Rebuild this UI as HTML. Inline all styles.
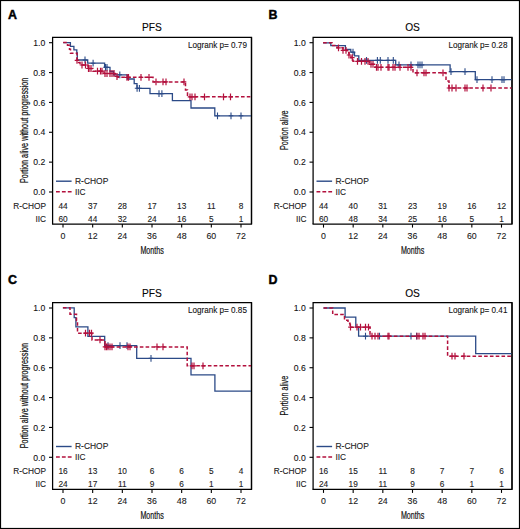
<!DOCTYPE html>
<html><head><meta charset="utf-8"><style>
html,body{margin:0;padding:0;background:#fff;}
svg{display:block;}
text{font-family:"Liberation Sans", sans-serif;}
</style></head><body>
<svg width="520" height="529" viewBox="0 0 520 529" font-family='"Liberation Sans", sans-serif' stroke="#111" stroke-width="0.1">
<rect x="0" y="0" width="520" height="529" fill="#fff" stroke="none"/>
<rect x="0.5" y="0.5" width="519" height="528" fill="none" stroke="#000" stroke-width="1.2"/>
<g transform="translate(0 0)">
<text x="8.1" y="18.7" font-size="12.4" font-weight="bold" stroke="#000" stroke-width="0.45">A</text>
<text x="152" y="31.3" font-size="10.2" text-anchor="middle">PFS</text>
<path d="M251.5 224.1V37.3H52.6V224.1" fill="none" stroke="#000" stroke-width="1.25"/>
<path d="M52 224.1H251.5V37.3" fill="none" stroke="#000" stroke-width="1.25"/>
<path d="M49 192H52.6" stroke="#000" stroke-width="1.1"/>
<text transform="translate(45.2 195.2) scale(0.95 1)" font-size="9.1" text-anchor="end" fill="#111">0.0</text>
<path d="M49 162.14H52.6" stroke="#000" stroke-width="1.1"/>
<text transform="translate(45.2 165.34) scale(0.95 1)" font-size="9.1" text-anchor="end" fill="#111">0.2</text>
<path d="M49 132.28H52.6" stroke="#000" stroke-width="1.1"/>
<text transform="translate(45.2 135.48) scale(0.95 1)" font-size="9.1" text-anchor="end" fill="#111">0.4</text>
<path d="M49 102.42H52.6" stroke="#000" stroke-width="1.1"/>
<text transform="translate(45.2 105.62) scale(0.95 1)" font-size="9.1" text-anchor="end" fill="#111">0.6</text>
<path d="M49 72.56H52.6" stroke="#000" stroke-width="1.1"/>
<text transform="translate(45.2 75.76) scale(0.95 1)" font-size="9.1" text-anchor="end" fill="#111">0.8</text>
<path d="M49 42.7H52.6" stroke="#000" stroke-width="1.1"/>
<text transform="translate(45.2 45.9) scale(0.95 1)" font-size="9.1" text-anchor="end" fill="#111">1.0</text>
<path d="M63 224.1V227.6" stroke="#000" stroke-width="1.1"/>
<text x="63" y="238.7" font-size="8.8" text-anchor="middle" fill="#222">0</text>
<path d="M92.67 224.1V227.6" stroke="#000" stroke-width="1.1"/>
<text x="92.67" y="238.7" font-size="8.8" text-anchor="middle" fill="#222">12</text>
<path d="M122.33 224.1V227.6" stroke="#000" stroke-width="1.1"/>
<text x="122.33" y="238.7" font-size="8.8" text-anchor="middle" fill="#222">24</text>
<path d="M152 224.1V227.6" stroke="#000" stroke-width="1.1"/>
<text x="152" y="238.7" font-size="8.8" text-anchor="middle" fill="#222">36</text>
<path d="M181.67 224.1V227.6" stroke="#000" stroke-width="1.1"/>
<text x="181.67" y="238.7" font-size="8.8" text-anchor="middle" fill="#222">48</text>
<path d="M211.33 224.1V227.6" stroke="#000" stroke-width="1.1"/>
<text x="211.33" y="238.7" font-size="8.8" text-anchor="middle" fill="#222">60</text>
<path d="M241 224.1V227.6" stroke="#000" stroke-width="1.1"/>
<text x="241" y="238.7" font-size="8.8" text-anchor="middle" fill="#222">72</text>
<text transform="translate(152.1 253.8) scale(0.715 1)" font-size="10" text-anchor="middle" fill="#111" stroke="#111" stroke-width="0.2">Months</text>
<text transform="translate(27.5 130.3) rotate(-90) scale(0.73 1)" font-size="10" text-anchor="middle" fill="#111" stroke="#111" stroke-width="0.2">Portion alive without progression</text>
<text transform="translate(246.9 48.1) scale(0.935 1)" font-size="8.7" text-anchor="end" fill="#111">Logrank p= 0.79</text>
<path d="M56 181.2H71.6" stroke="#2b4a87" stroke-width="1.4"/>
<text x="75" y="183.8" font-size="8.45" fill="#222">R-CHOP</text>
<path d="M56 191.7H71.6" stroke="#b3103d" stroke-width="1.6" stroke-dasharray="3.8 2.1"/>
<text x="75" y="194.6" font-size="8.3" fill="#222">IIC</text>
<text x="46" y="209.2" font-size="8.3" text-anchor="end" fill="#222">R-CHOP</text>
<text x="46" y="221.6" font-size="8.3" text-anchor="end" fill="#222">IIC</text>
<text x="63" y="209.1" font-size="8.3" text-anchor="middle" fill="#222">44</text>
<text x="92.67" y="209.1" font-size="8.3" text-anchor="middle" fill="#222">37</text>
<text x="122.33" y="209.1" font-size="8.3" text-anchor="middle" fill="#222">28</text>
<text x="152" y="209.1" font-size="8.3" text-anchor="middle" fill="#222">17</text>
<text x="181.67" y="209.1" font-size="8.3" text-anchor="middle" fill="#222">13</text>
<text x="211.33" y="209.1" font-size="8.3" text-anchor="middle" fill="#222">11</text>
<text x="241" y="209.1" font-size="8.3" text-anchor="middle" fill="#222">8</text>
<text x="63" y="221.6" font-size="8.3" text-anchor="middle" fill="#222">60</text>
<text x="92.67" y="221.6" font-size="8.3" text-anchor="middle" fill="#222">44</text>
<text x="122.33" y="221.6" font-size="8.3" text-anchor="middle" fill="#222">32</text>
<text x="152" y="221.6" font-size="8.3" text-anchor="middle" fill="#222">24</text>
<text x="181.67" y="221.6" font-size="8.3" text-anchor="middle" fill="#222">16</text>
<text x="211.33" y="221.6" font-size="8.3" text-anchor="middle" fill="#222">5</text>
<text x="241" y="221.6" font-size="8.3" text-anchor="middle" fill="#222">1</text>
<path d="M63.2 42.6H70.4V46.4H73.9V49.8H76.8V53H77.3V60H87.7V63.2H104.6V67.3H110V71.5H113.5V74.8H127.3V79H134.2V83.6H137V88.3H150V93.6H172.4V100.6H191V108H214.8V115.8H251" fill="none" stroke="#2b4a87" stroke-width="1.3"/>
<path d="M85 56.6V63.4M82.7 60H87.3" stroke="#2b4a87" stroke-width="1.1"/>
<path d="M93.1 59.8V66.6M90.8 63.2H95.4" stroke="#2b4a87" stroke-width="1.1"/>
<path d="M105.5 63.9V70.7M103.2 67.3H107.8" stroke="#2b4a87" stroke-width="1.1"/>
<path d="M107 63.9V70.7M104.7 67.3H109.3" stroke="#2b4a87" stroke-width="1.1"/>
<path d="M119.8 71.4V78.2M117.5 74.8H122.1" stroke="#2b4a87" stroke-width="1.1"/>
<path d="M137.1 84.9V91.7M134.8 88.3H139.4" stroke="#2b4a87" stroke-width="1.1"/>
<path d="M139.4 84.9V91.7M137.1 88.3H141.7" stroke="#2b4a87" stroke-width="1.1"/>
<path d="M159 90.2V97M156.7 93.6H161.3" stroke="#2b4a87" stroke-width="1.1"/>
<path d="M161.9 90.2V97M159.6 93.6H164.2" stroke="#2b4a87" stroke-width="1.1"/>
<path d="M217.5 112.4V119.2M215.2 115.8H219.8" stroke="#2b4a87" stroke-width="1.1"/>
<path d="M231 112.4V119.2M228.7 115.8H233.3" stroke="#2b4a87" stroke-width="1.1"/>
<path d="M241 112.4V119.2M238.7 115.8H243.3" stroke="#2b4a87" stroke-width="1.1"/>
<path d="M63.2 42.6H67.5V45.2H69.5V49.3H70.5V53.3H77V60.3H78.5V62.6H80V65H88V68.5H93V71.2H104V73.5H115V76.5H118V77.3H153V81.9H185.5V90H187.5V96.8H251" fill="none" stroke="#b3103d" stroke-width="1.5" stroke-dasharray="3.6 2.2"/>
<path d="M77 56.9V63.7M74.7 60.3H79.3" stroke="#b3103d" stroke-width="1.2"/>
<path d="M82 61.6V68.4M79.7 65H84.3" stroke="#b3103d" stroke-width="1.2"/>
<path d="M85.5 61.6V68.4M83.2 65H87.8" stroke="#b3103d" stroke-width="1.2"/>
<path d="M88.5 65.1V71.9M86.2 68.5H90.8" stroke="#b3103d" stroke-width="1.2"/>
<path d="M89 65.1V71.9M86.7 68.5H91.3" stroke="#b3103d" stroke-width="1.2"/>
<path d="M91 65.1V71.9M88.7 68.5H93.3" stroke="#b3103d" stroke-width="1.2"/>
<path d="M97.5 67.8V74.6M95.2 71.2H99.8" stroke="#b3103d" stroke-width="1.2"/>
<path d="M100.5 67.8V74.6M98.2 71.2H102.8" stroke="#b3103d" stroke-width="1.2"/>
<path d="M102 67.8V74.6M99.7 71.2H104.3" stroke="#b3103d" stroke-width="1.2"/>
<path d="M105 70.1V76.9M102.7 73.5H107.3" stroke="#b3103d" stroke-width="1.2"/>
<path d="M107 70.1V76.9M104.7 73.5H109.3" stroke="#b3103d" stroke-width="1.2"/>
<path d="M110 70.1V76.9M107.7 73.5H112.3" stroke="#b3103d" stroke-width="1.2"/>
<path d="M112 70.1V76.9M109.7 73.5H114.3" stroke="#b3103d" stroke-width="1.2"/>
<path d="M114 70.1V76.9M111.7 73.5H116.3" stroke="#b3103d" stroke-width="1.2"/>
<path d="M117 73.1V79.9M114.7 76.5H119.3" stroke="#b3103d" stroke-width="1.2"/>
<path d="M127 73.9V80.7M124.7 77.3H129.3" stroke="#b3103d" stroke-width="1.2"/>
<path d="M128.5 73.9V80.7M126.2 77.3H130.8" stroke="#b3103d" stroke-width="1.2"/>
<path d="M141 73.9V80.7M138.7 77.3H143.3" stroke="#b3103d" stroke-width="1.2"/>
<path d="M149 73.9V80.7M146.7 77.3H151.3" stroke="#b3103d" stroke-width="1.2"/>
<path d="M156 78.5V85.3M153.7 81.9H158.3" stroke="#b3103d" stroke-width="1.2"/>
<path d="M163 78.5V85.3M160.7 81.9H165.3" stroke="#b3103d" stroke-width="1.2"/>
<path d="M166 78.5V85.3M163.7 81.9H168.3" stroke="#b3103d" stroke-width="1.2"/>
<path d="M184 78.5V85.3M181.7 81.9H186.3" stroke="#b3103d" stroke-width="1.2"/>
<path d="M190 93.4V100.2M187.7 96.8H192.3" stroke="#b3103d" stroke-width="1.2"/>
<path d="M192 93.4V100.2M189.7 96.8H194.3" stroke="#b3103d" stroke-width="1.2"/>
<path d="M195 93.4V100.2M192.7 96.8H197.3" stroke="#b3103d" stroke-width="1.2"/>
<path d="M204.5 93.4V100.2M202.2 96.8H206.8" stroke="#b3103d" stroke-width="1.2"/>
<path d="M223.5 93.4V100.2M221.2 96.8H225.8" stroke="#b3103d" stroke-width="1.2"/>
<path d="M230.5 93.4V100.2M228.2 96.8H232.8" stroke="#b3103d" stroke-width="1.2"/>
</g>
<g transform="translate(260.5 0)">
<text x="8.1" y="18.7" font-size="12.4" font-weight="bold" stroke="#000" stroke-width="0.45">B</text>
<text x="152" y="31.3" font-size="10.2" text-anchor="middle">OS</text>
<path d="M251.5 224.1V37.3H52.6V224.1" fill="none" stroke="#000" stroke-width="1.25"/>
<path d="M52 224.1H251.5V37.3" fill="none" stroke="#000" stroke-width="1.25"/>
<path d="M49 192H52.6" stroke="#000" stroke-width="1.1"/>
<text transform="translate(45.2 195.2) scale(0.95 1)" font-size="9.1" text-anchor="end" fill="#111">0.0</text>
<path d="M49 162.14H52.6" stroke="#000" stroke-width="1.1"/>
<text transform="translate(45.2 165.34) scale(0.95 1)" font-size="9.1" text-anchor="end" fill="#111">0.2</text>
<path d="M49 132.28H52.6" stroke="#000" stroke-width="1.1"/>
<text transform="translate(45.2 135.48) scale(0.95 1)" font-size="9.1" text-anchor="end" fill="#111">0.4</text>
<path d="M49 102.42H52.6" stroke="#000" stroke-width="1.1"/>
<text transform="translate(45.2 105.62) scale(0.95 1)" font-size="9.1" text-anchor="end" fill="#111">0.6</text>
<path d="M49 72.56H52.6" stroke="#000" stroke-width="1.1"/>
<text transform="translate(45.2 75.76) scale(0.95 1)" font-size="9.1" text-anchor="end" fill="#111">0.8</text>
<path d="M49 42.7H52.6" stroke="#000" stroke-width="1.1"/>
<text transform="translate(45.2 45.9) scale(0.95 1)" font-size="9.1" text-anchor="end" fill="#111">1.0</text>
<path d="M63 224.1V227.6" stroke="#000" stroke-width="1.1"/>
<text x="63" y="238.7" font-size="8.8" text-anchor="middle" fill="#222">0</text>
<path d="M92.67 224.1V227.6" stroke="#000" stroke-width="1.1"/>
<text x="92.67" y="238.7" font-size="8.8" text-anchor="middle" fill="#222">12</text>
<path d="M122.33 224.1V227.6" stroke="#000" stroke-width="1.1"/>
<text x="122.33" y="238.7" font-size="8.8" text-anchor="middle" fill="#222">24</text>
<path d="M152 224.1V227.6" stroke="#000" stroke-width="1.1"/>
<text x="152" y="238.7" font-size="8.8" text-anchor="middle" fill="#222">36</text>
<path d="M181.67 224.1V227.6" stroke="#000" stroke-width="1.1"/>
<text x="181.67" y="238.7" font-size="8.8" text-anchor="middle" fill="#222">48</text>
<path d="M211.33 224.1V227.6" stroke="#000" stroke-width="1.1"/>
<text x="211.33" y="238.7" font-size="8.8" text-anchor="middle" fill="#222">60</text>
<path d="M241 224.1V227.6" stroke="#000" stroke-width="1.1"/>
<text x="241" y="238.7" font-size="8.8" text-anchor="middle" fill="#222">72</text>
<text transform="translate(152.1 253.8) scale(0.715 1)" font-size="10" text-anchor="middle" fill="#111" stroke="#111" stroke-width="0.2">Months</text>
<text transform="translate(27.5 130.3) rotate(-90) scale(0.72 1)" font-size="10" text-anchor="middle" fill="#111" stroke="#111" stroke-width="0.2">Portion alive</text>
<text transform="translate(246.9 48.1) scale(0.935 1)" font-size="8.7" text-anchor="end" fill="#111">Logrank p= 0.28</text>
<path d="M56 181.2H71.6" stroke="#2b4a87" stroke-width="1.4"/>
<text x="75" y="183.8" font-size="8.45" fill="#222">R-CHOP</text>
<path d="M56 191.7H71.6" stroke="#b3103d" stroke-width="1.6" stroke-dasharray="3.8 2.1"/>
<text x="75" y="194.6" font-size="8.3" fill="#222">IIC</text>
<text x="46" y="209.2" font-size="8.3" text-anchor="end" fill="#222">R-CHOP</text>
<text x="46" y="221.6" font-size="8.3" text-anchor="end" fill="#222">IIC</text>
<text x="63" y="209.1" font-size="8.3" text-anchor="middle" fill="#222">44</text>
<text x="92.67" y="209.1" font-size="8.3" text-anchor="middle" fill="#222">40</text>
<text x="122.33" y="209.1" font-size="8.3" text-anchor="middle" fill="#222">31</text>
<text x="152" y="209.1" font-size="8.3" text-anchor="middle" fill="#222">23</text>
<text x="181.67" y="209.1" font-size="8.3" text-anchor="middle" fill="#222">19</text>
<text x="211.33" y="209.1" font-size="8.3" text-anchor="middle" fill="#222">16</text>
<text x="241" y="209.1" font-size="8.3" text-anchor="middle" fill="#222">12</text>
<text x="63" y="221.6" font-size="8.3" text-anchor="middle" fill="#222">60</text>
<text x="92.67" y="221.6" font-size="8.3" text-anchor="middle" fill="#222">48</text>
<text x="122.33" y="221.6" font-size="8.3" text-anchor="middle" fill="#222">34</text>
<text x="152" y="221.6" font-size="8.3" text-anchor="middle" fill="#222">25</text>
<text x="181.67" y="221.6" font-size="8.3" text-anchor="middle" fill="#222">16</text>
<text x="211.33" y="221.6" font-size="8.3" text-anchor="middle" fill="#222">5</text>
<text x="241" y="221.6" font-size="8.3" text-anchor="middle" fill="#222">1</text>
<path d="M62.6 42.8H70.3V45.7H84.9V49.5H90.3V52.2H94V55.9H98.3V60.4H135.2V64.9H189.6V71.6H214.8V79.6H251" fill="none" stroke="#2b4a87" stroke-width="1.3"/>
<path d="M92.5 48.8V55.6M90.2 52.2H94.8" stroke="#2b4a87" stroke-width="1.1"/>
<path d="M106 57V63.8M103.7 60.4H108.3" stroke="#2b4a87" stroke-width="1.1"/>
<path d="M116.9 57V63.8M114.6 60.4H119.2" stroke="#2b4a87" stroke-width="1.1"/>
<path d="M119.8 57V63.8M117.5 60.4H122.1" stroke="#2b4a87" stroke-width="1.1"/>
<path d="M127.5 57V63.8M125.2 60.4H129.8" stroke="#2b4a87" stroke-width="1.1"/>
<path d="M132.8 57V63.8M130.5 60.4H135.1" stroke="#2b4a87" stroke-width="1.1"/>
<path d="M138.5 61.5V68.3M136.2 64.9H140.8" stroke="#2b4a87" stroke-width="1.1"/>
<path d="M150.5 61.5V68.3M148.2 64.9H152.8" stroke="#2b4a87" stroke-width="1.1"/>
<path d="M157.5 61.5V68.3M155.2 64.9H159.8" stroke="#2b4a87" stroke-width="1.1"/>
<path d="M159.5 61.5V68.3M157.2 64.9H161.8" stroke="#2b4a87" stroke-width="1.1"/>
<path d="M161.5 61.5V68.3M159.2 64.9H163.8" stroke="#2b4a87" stroke-width="1.1"/>
<path d="M190.5 68.2V75M188.2 71.6H192.8" stroke="#2b4a87" stroke-width="1.1"/>
<path d="M204.5 68.2V75M202.2 71.6H206.8" stroke="#2b4a87" stroke-width="1.1"/>
<path d="M216.5 76.2V83M214.2 79.6H218.8" stroke="#2b4a87" stroke-width="1.1"/>
<path d="M231.5 76.2V83M229.2 79.6H233.8" stroke="#2b4a87" stroke-width="1.1"/>
<path d="M241.5 76.2V83M239.2 79.6H243.8" stroke="#2b4a87" stroke-width="1.1"/>
<path d="M243.5 76.2V83M241.2 79.6H245.8" stroke="#2b4a87" stroke-width="1.1"/>
<path d="M62.6 42.8H71.5V45.5H76.5V47.8H82.5V50.3H86.5V52.7H88.5V55H90.5V57.7H92.5V61.3H109V64.3H114.5V67.3H152.5V72.8H185.5V81H188.5V88H251" fill="none" stroke="#b3103d" stroke-width="1.5" stroke-dasharray="3.6 2.2"/>
<path d="M78 44.4V51.2M75.7 47.8H80.3" stroke="#b3103d" stroke-width="1.2"/>
<path d="M82.5 46.9V53.7M80.2 50.3H84.8" stroke="#b3103d" stroke-width="1.2"/>
<path d="M85.5 46.9V53.7M83.2 50.3H87.8" stroke="#b3103d" stroke-width="1.2"/>
<path d="M88.5 51.6V58.4M86.2 55H90.8" stroke="#b3103d" stroke-width="1.2"/>
<path d="M91.8 54.3V61.1M89.5 57.7H94.1" stroke="#b3103d" stroke-width="1.2"/>
<path d="M97 57.9V64.7M94.7 61.3H99.3" stroke="#b3103d" stroke-width="1.2"/>
<path d="M101 57.9V64.7M98.7 61.3H103.3" stroke="#b3103d" stroke-width="1.2"/>
<path d="M104.5 57.9V64.7M102.2 61.3H106.8" stroke="#b3103d" stroke-width="1.2"/>
<path d="M107.5 57.9V64.7M105.2 61.3H109.8" stroke="#b3103d" stroke-width="1.2"/>
<path d="M110.5 60.9V67.7M108.2 64.3H112.8" stroke="#b3103d" stroke-width="1.2"/>
<path d="M112.5 60.9V67.7M110.2 64.3H114.8" stroke="#b3103d" stroke-width="1.2"/>
<path d="M116 63.9V70.7M113.7 67.3H118.3" stroke="#b3103d" stroke-width="1.2"/>
<path d="M117.5 63.9V70.7M115.2 67.3H119.8" stroke="#b3103d" stroke-width="1.2"/>
<path d="M120.5 63.9V70.7M118.2 67.3H122.8" stroke="#b3103d" stroke-width="1.2"/>
<path d="M127.5 63.9V70.7M125.2 67.3H129.8" stroke="#b3103d" stroke-width="1.2"/>
<path d="M128.5 63.9V70.7M126.2 67.3H130.8" stroke="#b3103d" stroke-width="1.2"/>
<path d="M132.5 63.9V70.7M130.2 67.3H134.8" stroke="#b3103d" stroke-width="1.2"/>
<path d="M134.5 63.9V70.7M132.2 67.3H136.8" stroke="#b3103d" stroke-width="1.2"/>
<path d="M139.5 63.9V70.7M137.2 67.3H141.8" stroke="#b3103d" stroke-width="1.2"/>
<path d="M147.5 63.9V70.7M145.2 67.3H149.8" stroke="#b3103d" stroke-width="1.2"/>
<path d="M150.5 63.9V70.7M148.2 67.3H152.8" stroke="#b3103d" stroke-width="1.2"/>
<path d="M156.5 69.4V76.2M154.2 72.8H158.8" stroke="#b3103d" stroke-width="1.2"/>
<path d="M163.5 69.4V76.2M161.2 72.8H165.8" stroke="#b3103d" stroke-width="1.2"/>
<path d="M165.5 69.4V76.2M163.2 72.8H167.8" stroke="#b3103d" stroke-width="1.2"/>
<path d="M182.5 69.4V76.2M180.2 72.8H184.8" stroke="#b3103d" stroke-width="1.2"/>
<path d="M188.5 84.6V91.4M186.2 88H190.8" stroke="#b3103d" stroke-width="1.2"/>
<path d="M191.5 84.6V91.4M189.2 88H193.8" stroke="#b3103d" stroke-width="1.2"/>
<path d="M195.5 84.6V91.4M193.2 88H197.8" stroke="#b3103d" stroke-width="1.2"/>
<path d="M204.5 84.6V91.4M202.2 88H206.8" stroke="#b3103d" stroke-width="1.2"/>
<path d="M206.5 84.6V91.4M204.2 88H208.8" stroke="#b3103d" stroke-width="1.2"/>
<path d="M222.5 84.6V91.4M220.2 88H224.8" stroke="#b3103d" stroke-width="1.2"/>
<path d="M230.5 84.6V91.4M228.2 88H232.8" stroke="#b3103d" stroke-width="1.2"/>
</g>
<g transform="translate(0 265.3)">
<text x="8.1" y="18.7" font-size="12.4" font-weight="bold" stroke="#000" stroke-width="0.45">C</text>
<text x="152" y="31.3" font-size="10.2" text-anchor="middle">PFS</text>
<path d="M251.5 224.1V37.3H52.6V224.1" fill="none" stroke="#000" stroke-width="1.25"/>
<path d="M52 224.1H251.5V37.3" fill="none" stroke="#000" stroke-width="1.25"/>
<path d="M49 192H52.6" stroke="#000" stroke-width="1.1"/>
<text transform="translate(45.2 195.2) scale(0.95 1)" font-size="9.1" text-anchor="end" fill="#111">0.0</text>
<path d="M49 162.14H52.6" stroke="#000" stroke-width="1.1"/>
<text transform="translate(45.2 165.34) scale(0.95 1)" font-size="9.1" text-anchor="end" fill="#111">0.2</text>
<path d="M49 132.28H52.6" stroke="#000" stroke-width="1.1"/>
<text transform="translate(45.2 135.48) scale(0.95 1)" font-size="9.1" text-anchor="end" fill="#111">0.4</text>
<path d="M49 102.42H52.6" stroke="#000" stroke-width="1.1"/>
<text transform="translate(45.2 105.62) scale(0.95 1)" font-size="9.1" text-anchor="end" fill="#111">0.6</text>
<path d="M49 72.56H52.6" stroke="#000" stroke-width="1.1"/>
<text transform="translate(45.2 75.76) scale(0.95 1)" font-size="9.1" text-anchor="end" fill="#111">0.8</text>
<path d="M49 42.7H52.6" stroke="#000" stroke-width="1.1"/>
<text transform="translate(45.2 45.9) scale(0.95 1)" font-size="9.1" text-anchor="end" fill="#111">1.0</text>
<path d="M63 224.1V227.6" stroke="#000" stroke-width="1.1"/>
<text x="63" y="238.7" font-size="8.8" text-anchor="middle" fill="#222">0</text>
<path d="M92.67 224.1V227.6" stroke="#000" stroke-width="1.1"/>
<text x="92.67" y="238.7" font-size="8.8" text-anchor="middle" fill="#222">12</text>
<path d="M122.33 224.1V227.6" stroke="#000" stroke-width="1.1"/>
<text x="122.33" y="238.7" font-size="8.8" text-anchor="middle" fill="#222">24</text>
<path d="M152 224.1V227.6" stroke="#000" stroke-width="1.1"/>
<text x="152" y="238.7" font-size="8.8" text-anchor="middle" fill="#222">36</text>
<path d="M181.67 224.1V227.6" stroke="#000" stroke-width="1.1"/>
<text x="181.67" y="238.7" font-size="8.8" text-anchor="middle" fill="#222">48</text>
<path d="M211.33 224.1V227.6" stroke="#000" stroke-width="1.1"/>
<text x="211.33" y="238.7" font-size="8.8" text-anchor="middle" fill="#222">60</text>
<path d="M241 224.1V227.6" stroke="#000" stroke-width="1.1"/>
<text x="241" y="238.7" font-size="8.8" text-anchor="middle" fill="#222">72</text>
<text transform="translate(152.1 253.8) scale(0.715 1)" font-size="10" text-anchor="middle" fill="#111" stroke="#111" stroke-width="0.2">Months</text>
<text transform="translate(27.5 130.3) rotate(-90) scale(0.73 1)" font-size="10" text-anchor="middle" fill="#111" stroke="#111" stroke-width="0.2">Portion alive without progression</text>
<text transform="translate(246.9 48.1) scale(0.935 1)" font-size="8.7" text-anchor="end" fill="#111">Logrank p= 0.85</text>
<path d="M56 181.2H71.6" stroke="#2b4a87" stroke-width="1.4"/>
<text x="75" y="183.8" font-size="8.45" fill="#222">R-CHOP</text>
<path d="M56 191.7H71.6" stroke="#b3103d" stroke-width="1.6" stroke-dasharray="3.8 2.1"/>
<text x="75" y="194.6" font-size="8.3" fill="#222">IIC</text>
<text x="46" y="209.2" font-size="8.3" text-anchor="end" fill="#222">R-CHOP</text>
<text x="46" y="221.6" font-size="8.3" text-anchor="end" fill="#222">IIC</text>
<text x="63" y="209.1" font-size="8.3" text-anchor="middle" fill="#222">16</text>
<text x="92.67" y="209.1" font-size="8.3" text-anchor="middle" fill="#222">13</text>
<text x="122.33" y="209.1" font-size="8.3" text-anchor="middle" fill="#222">10</text>
<text x="152" y="209.1" font-size="8.3" text-anchor="middle" fill="#222">6</text>
<text x="181.67" y="209.1" font-size="8.3" text-anchor="middle" fill="#222">6</text>
<text x="211.33" y="209.1" font-size="8.3" text-anchor="middle" fill="#222">5</text>
<text x="241" y="209.1" font-size="8.3" text-anchor="middle" fill="#222">4</text>
<text x="63" y="221.6" font-size="8.3" text-anchor="middle" fill="#222">24</text>
<text x="92.67" y="221.6" font-size="8.3" text-anchor="middle" fill="#222">17</text>
<text x="122.33" y="221.6" font-size="8.3" text-anchor="middle" fill="#222">11</text>
<text x="152" y="221.6" font-size="8.3" text-anchor="middle" fill="#222">9</text>
<text x="181.67" y="221.6" font-size="8.3" text-anchor="middle" fill="#222">6</text>
<text x="211.33" y="221.6" font-size="8.3" text-anchor="middle" fill="#222">1</text>
<text x="241" y="221.6" font-size="8.3" text-anchor="middle" fill="#222">1</text>
<path d="M62.9 42.5H74.2V52.3H75.9V61.5H87.9V71H104.7V80.3H136.7V93.1H191V109.5H214.9V125.9H251" fill="none" stroke="#2b4a87" stroke-width="1.3"/>
<path d="M108 76.9V83.7M105.7 80.3H110.3" stroke="#2b4a87" stroke-width="1.1"/>
<path d="M120 76.9V83.7M117.7 80.3H122.3" stroke="#2b4a87" stroke-width="1.1"/>
<path d="M127 76.9V83.7M124.7 80.3H129.3" stroke="#2b4a87" stroke-width="1.1"/>
<path d="M151 89.7V96.5M148.7 93.1H153.3" stroke="#2b4a87" stroke-width="1.1"/>
<path d="M62.9 42.5H70V48.9H76.5V55.1H77.5V67.9H92V74.6H105V81.6H187.2V100.5H251" fill="none" stroke="#b3103d" stroke-width="1.5" stroke-dasharray="3.6 2.2"/>
<path d="M85.5 64.5V71.3M83.2 67.9H87.8" stroke="#b3103d" stroke-width="1.2"/>
<path d="M89.5 64.5V71.3M87.2 67.9H91.8" stroke="#b3103d" stroke-width="1.2"/>
<path d="M91.5 64.5V71.3M89.2 67.9H93.8" stroke="#b3103d" stroke-width="1.2"/>
<path d="M100 71.2V78M97.7 74.6H102.3" stroke="#b3103d" stroke-width="1.2"/>
<path d="M105 78.2V85M102.7 81.6H107.3" stroke="#b3103d" stroke-width="1.2"/>
<path d="M106.5 78.2V85M104.2 81.6H108.8" stroke="#b3103d" stroke-width="1.2"/>
<path d="M108 78.2V85M105.7 81.6H110.3" stroke="#b3103d" stroke-width="1.2"/>
<path d="M110 78.2V85M107.7 81.6H112.3" stroke="#b3103d" stroke-width="1.2"/>
<path d="M112 78.2V85M109.7 81.6H114.3" stroke="#b3103d" stroke-width="1.2"/>
<path d="M128 78.2V85M125.7 81.6H130.3" stroke="#b3103d" stroke-width="1.2"/>
<path d="M130 78.2V85M127.7 81.6H132.3" stroke="#b3103d" stroke-width="1.2"/>
<path d="M157 78.2V85M154.7 81.6H159.3" stroke="#b3103d" stroke-width="1.2"/>
<path d="M163 78.2V85M160.7 81.6H165.3" stroke="#b3103d" stroke-width="1.2"/>
<path d="M192 97.1V103.9M189.7 100.5H194.3" stroke="#b3103d" stroke-width="1.2"/>
<path d="M194 97.1V103.9M191.7 100.5H196.3" stroke="#b3103d" stroke-width="1.2"/>
<path d="M203 97.1V103.9M200.7 100.5H205.3" stroke="#b3103d" stroke-width="1.2"/>
</g>
<g transform="translate(260.5 265.3)">
<text x="8.1" y="18.7" font-size="12.4" font-weight="bold" stroke="#000" stroke-width="0.45">D</text>
<text x="152" y="31.3" font-size="10.2" text-anchor="middle">OS</text>
<path d="M251.5 224.1V37.3H52.6V224.1" fill="none" stroke="#000" stroke-width="1.25"/>
<path d="M52 224.1H251.5V37.3" fill="none" stroke="#000" stroke-width="1.25"/>
<path d="M49 192H52.6" stroke="#000" stroke-width="1.1"/>
<text transform="translate(45.2 195.2) scale(0.95 1)" font-size="9.1" text-anchor="end" fill="#111">0.0</text>
<path d="M49 162.14H52.6" stroke="#000" stroke-width="1.1"/>
<text transform="translate(45.2 165.34) scale(0.95 1)" font-size="9.1" text-anchor="end" fill="#111">0.2</text>
<path d="M49 132.28H52.6" stroke="#000" stroke-width="1.1"/>
<text transform="translate(45.2 135.48) scale(0.95 1)" font-size="9.1" text-anchor="end" fill="#111">0.4</text>
<path d="M49 102.42H52.6" stroke="#000" stroke-width="1.1"/>
<text transform="translate(45.2 105.62) scale(0.95 1)" font-size="9.1" text-anchor="end" fill="#111">0.6</text>
<path d="M49 72.56H52.6" stroke="#000" stroke-width="1.1"/>
<text transform="translate(45.2 75.76) scale(0.95 1)" font-size="9.1" text-anchor="end" fill="#111">0.8</text>
<path d="M49 42.7H52.6" stroke="#000" stroke-width="1.1"/>
<text transform="translate(45.2 45.9) scale(0.95 1)" font-size="9.1" text-anchor="end" fill="#111">1.0</text>
<path d="M63 224.1V227.6" stroke="#000" stroke-width="1.1"/>
<text x="63" y="238.7" font-size="8.8" text-anchor="middle" fill="#222">0</text>
<path d="M92.67 224.1V227.6" stroke="#000" stroke-width="1.1"/>
<text x="92.67" y="238.7" font-size="8.8" text-anchor="middle" fill="#222">12</text>
<path d="M122.33 224.1V227.6" stroke="#000" stroke-width="1.1"/>
<text x="122.33" y="238.7" font-size="8.8" text-anchor="middle" fill="#222">24</text>
<path d="M152 224.1V227.6" stroke="#000" stroke-width="1.1"/>
<text x="152" y="238.7" font-size="8.8" text-anchor="middle" fill="#222">36</text>
<path d="M181.67 224.1V227.6" stroke="#000" stroke-width="1.1"/>
<text x="181.67" y="238.7" font-size="8.8" text-anchor="middle" fill="#222">48</text>
<path d="M211.33 224.1V227.6" stroke="#000" stroke-width="1.1"/>
<text x="211.33" y="238.7" font-size="8.8" text-anchor="middle" fill="#222">60</text>
<path d="M241 224.1V227.6" stroke="#000" stroke-width="1.1"/>
<text x="241" y="238.7" font-size="8.8" text-anchor="middle" fill="#222">72</text>
<text transform="translate(152.1 253.8) scale(0.715 1)" font-size="10" text-anchor="middle" fill="#111" stroke="#111" stroke-width="0.2">Months</text>
<text transform="translate(27.5 130.3) rotate(-90) scale(0.72 1)" font-size="10" text-anchor="middle" fill="#111" stroke="#111" stroke-width="0.2">Portion alive</text>
<text transform="translate(246.9 48.1) scale(0.935 1)" font-size="8.7" text-anchor="end" fill="#111">Logrank p= 0.41</text>
<path d="M56 181.2H71.6" stroke="#2b4a87" stroke-width="1.4"/>
<text x="75" y="183.8" font-size="8.45" fill="#222">R-CHOP</text>
<path d="M56 191.7H71.6" stroke="#b3103d" stroke-width="1.6" stroke-dasharray="3.8 2.1"/>
<text x="75" y="194.6" font-size="8.3" fill="#222">IIC</text>
<text x="46" y="209.2" font-size="8.3" text-anchor="end" fill="#222">R-CHOP</text>
<text x="46" y="221.6" font-size="8.3" text-anchor="end" fill="#222">IIC</text>
<text x="63" y="209.1" font-size="8.3" text-anchor="middle" fill="#222">16</text>
<text x="92.67" y="209.1" font-size="8.3" text-anchor="middle" fill="#222">15</text>
<text x="122.33" y="209.1" font-size="8.3" text-anchor="middle" fill="#222">11</text>
<text x="152" y="209.1" font-size="8.3" text-anchor="middle" fill="#222">8</text>
<text x="181.67" y="209.1" font-size="8.3" text-anchor="middle" fill="#222">7</text>
<text x="211.33" y="209.1" font-size="8.3" text-anchor="middle" fill="#222">7</text>
<text x="241" y="209.1" font-size="8.3" text-anchor="middle" fill="#222">6</text>
<text x="63" y="221.6" font-size="8.3" text-anchor="middle" fill="#222">24</text>
<text x="92.67" y="221.6" font-size="8.3" text-anchor="middle" fill="#222">19</text>
<text x="122.33" y="221.6" font-size="8.3" text-anchor="middle" fill="#222">11</text>
<text x="152" y="221.6" font-size="8.3" text-anchor="middle" fill="#222">9</text>
<text x="181.67" y="221.6" font-size="8.3" text-anchor="middle" fill="#222">6</text>
<text x="211.33" y="221.6" font-size="8.3" text-anchor="middle" fill="#222">1</text>
<text x="241" y="221.6" font-size="8.3" text-anchor="middle" fill="#222">1</text>
<path d="M63 42.7H84.6V51.9H95.3V61.8H98.1V70.9H215.2V88.3H251" fill="none" stroke="#2b4a87" stroke-width="1.3"/>
<path d="M105 67.5V74.3M102.7 70.9H107.3" stroke="#2b4a87" stroke-width="1.1"/>
<path d="M119 67.5V74.3M116.7 70.9H121.3" stroke="#2b4a87" stroke-width="1.1"/>
<path d="M150.5 67.5V74.3M148.2 70.9H152.8" stroke="#2b4a87" stroke-width="1.1"/>
<path d="M156.1 67.5V74.3M153.8 70.9H158.4" stroke="#2b4a87" stroke-width="1.1"/>
<path d="M63 42.7H72.2V49.2H84V55H87.5V57.9H89.5V61.9H109.5V70.9H187.1V90.9H251" fill="none" stroke="#b3103d" stroke-width="1.5" stroke-dasharray="3.6 2.2"/>
<path d="M90 58.5V65.3M87.7 61.9H92.3" stroke="#b3103d" stroke-width="1.2"/>
<path d="M96.5 58.5V65.3M94.2 61.9H98.8" stroke="#b3103d" stroke-width="1.2"/>
<path d="M100 58.5V65.3M97.7 61.9H102.3" stroke="#b3103d" stroke-width="1.2"/>
<path d="M105 58.5V65.3M102.7 61.9H107.3" stroke="#b3103d" stroke-width="1.2"/>
<path d="M108 58.5V65.3M105.7 61.9H110.3" stroke="#b3103d" stroke-width="1.2"/>
<path d="M111.5 67.5V74.3M109.2 70.9H113.8" stroke="#b3103d" stroke-width="1.2"/>
<path d="M114.5 67.5V74.3M112.2 70.9H116.8" stroke="#b3103d" stroke-width="1.2"/>
<path d="M117.5 67.5V74.3M115.2 70.9H119.8" stroke="#b3103d" stroke-width="1.2"/>
<path d="M127.5 67.5V74.3M125.2 70.9H129.8" stroke="#b3103d" stroke-width="1.2"/>
<path d="M128.5 67.5V74.3M126.2 70.9H130.8" stroke="#b3103d" stroke-width="1.2"/>
<path d="M156.5 67.5V74.3M154.2 70.9H158.8" stroke="#b3103d" stroke-width="1.2"/>
<path d="M158.5 67.5V74.3M156.2 70.9H160.8" stroke="#b3103d" stroke-width="1.2"/>
<path d="M162.5 67.5V74.3M160.2 70.9H164.8" stroke="#b3103d" stroke-width="1.2"/>
<path d="M164.5 67.5V74.3M162.2 70.9H166.8" stroke="#b3103d" stroke-width="1.2"/>
<path d="M191.5 87.5V94.3M189.2 90.9H193.8" stroke="#b3103d" stroke-width="1.2"/>
<path d="M194.5 87.5V94.3M192.2 90.9H196.8" stroke="#b3103d" stroke-width="1.2"/>
<path d="M203.5 87.5V94.3M201.2 90.9H205.8" stroke="#b3103d" stroke-width="1.2"/>
</g>
</svg>
</body></html>
